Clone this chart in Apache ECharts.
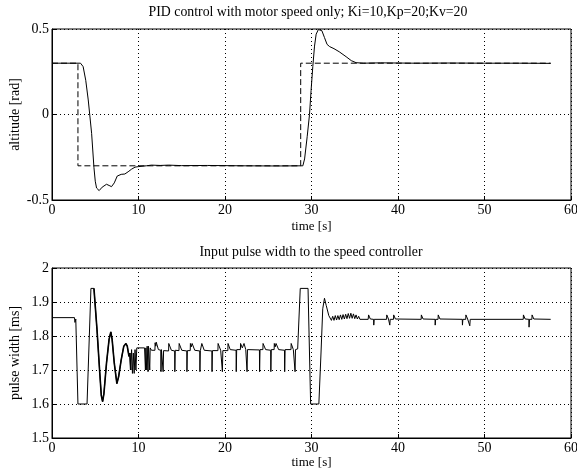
<!DOCTYPE html>
<html>
<head>
<meta charset="utf-8">
<script src="https://cdn.jsdelivr.net/npm/echarts@6/dist/echarts.min.js"></script>
<style>html,body{margin:0;padding:0;background:#fff}#c{width:577px;height:474px}</style>
</head>
<body>
<div id="c"></div>
<script>
// ---- data ----
const titleTop = 'PID control with motor speed only; Ki=10,Kp=20;Kv=20';
const titleBottom = 'Input pulse width to the speed controller';
const xName = 'time [s]';
const yNameTop = 'altitude [rad]';
const yNameBottom = 'pulse width [ms]';
const xTicks = [0, 10, 20, 30, 40, 50, 60];
const yTicksTop = [-0.5, 0, 0.5];
const yTicksBottom = [1.5, 1.6, 1.7, 1.8, 1.9, 2];

// altitude reference (dashed)
const altitudeRef = [[0,0.3],[3.0,0.3],[3.0,-0.3],[28.75,-0.3],[28.75,0.3],[57.65,0.3]];
// altitude measured (solid)
const altitude = [
 [0,0.30],[3.3,0.30],[3.45,0.295],[3.6,0.28],[3.9,0.2],[4.19,0.085],[4.58,-0.11],[4.85,-0.31],
 [5.0,-0.39],[5.15,-0.43],[5.45,-0.445],[5.8,-0.425],[6.3,-0.408],[6.6,-0.415],[6.88,-0.422],
 [7.2,-0.4],[7.54,-0.36],[8.0,-0.35],[8.42,-0.348],[8.8,-0.335],[9.19,-0.32],[9.6,-0.308],
 [9.96,-0.305],[10.9,-0.3],[11.5,-0.296],[12.5,-0.298],[13.5,-0.296],[15,-0.299],[18,-0.298],
 [22,-0.3],[26,-0.301],[29.0,-0.3],[29.2,-0.26],[29.5,-0.13],[29.77,0.0],[29.95,0.14],
 [30.15,0.28],[30.35,0.4],[30.54,0.47],[30.8,0.497],[31.0,0.5],[31.2,0.49],[31.5,0.45],
 [31.8,0.41],[32.1,0.397],[32.6,0.385],[33.2,0.367],[34.0,0.338],[34.6,0.315],[35.15,0.303],
 [36,0.3],[38,0.302],[42,0.3],[46,0.301],[50,0.3],[54,0.3],[57.65,0.299]
];
// pulse width (solid)
const pulseWidth = [
 [0,1.854],[2.6,1.854],[2.65,1.84],[2.75,1.85],[2.95,1.852],[3.0,1.6],[4.05,1.6],[4.5,1.94],
 [4.85,1.94],[5.2,1.82],[5.5,1.70],[5.7,1.625],[5.85,1.607],[6.0,1.63],[6.3,1.72],[6.6,1.79],
 [6.8,1.812],[6.95,1.79],[7.2,1.72],[7.5,1.66],[7.7,1.68],[8.0,1.73],[8.3,1.77],[8.55,1.778],
 [8.7,1.77],[8.9,1.74],[9.0,1.75],[9.1,1.70],[9.2,1.76],[9.3,1.69],[9.4,1.75],[9.5,1.69],
 [9.6,1.76],[9.7,1.70],[9.8,1.765],[10.7,1.765],
 [10.75,1.765],[10.8,1.70],[10.85,1.765],[10.95,1.70],[11.0,1.77],[11.1,1.695],[11.15,1.77],
 [11.3,1.70],[11.35,1.765],[11.5,1.758],
 [11.9,1.758],[11.92,1.78],[12.0,1.77],[12.05,1.782],[12.3,1.76],
 [12.58,1.758],[12.6,1.695],[12.65,1.76],[12.83,1.758],[12.85,1.695],[12.9,1.757],
 [13.48,1.756],[13.5,1.778],[13.8,1.758],
 [14.18,1.756],[14.2,1.695],[14.25,1.758],
 [14.68,1.757],[14.7,1.778],[15.0,1.758],
 [15.58,1.756],[15.6,1.695],[15.65,1.757],
 [15.98,1.757],[16.0,1.778],[16.1,1.768],[16.2,1.778],[16.5,1.758],
 [17.08,1.756],[17.1,1.695],[17.15,1.757],
 [17.3,1.758],[17.32,1.778],[17.6,1.758],
 [18.48,1.756],[18.5,1.695],[18.55,1.757],
 [19.18,1.757],[19.2,1.778],[19.5,1.758],
 [19.68,1.756],[19.7,1.695],[19.75,1.757],
 [20.33,1.757],[20.35,1.778],[20.6,1.76],
 [21.28,1.758],[21.3,1.695],[21.35,1.76],
 [21.78,1.76],[21.8,1.778],[22.0,1.765],[22.2,1.778],[22.4,1.76],
 [22.53,1.758],[22.55,1.695],[22.6,1.76],
 [23.98,1.759],[24.0,1.695],[24.05,1.76],
 [24.38,1.76],[24.4,1.778],[24.7,1.76],
 [25.28,1.758],[25.3,1.695],[25.35,1.76],
 [25.68,1.76],[25.7,1.778],[25.8,1.768],[25.9,1.778],[26.2,1.76],
 [26.88,1.758],[26.9,1.695],[26.95,1.76],
 [27.63,1.76],[27.65,1.778],[27.9,1.76],
 [28.08,1.758],[28.1,1.695],[28.15,1.76],
 [28.4,1.762],[28.7,1.94],[29.6,1.94],[29.9,1.6],[30.85,1.6],
 [31.1,1.75],[31.3,1.88],[31.5,1.911],[31.7,1.89],[32.0,1.86],[32.3,1.846],
 [32.45,1.858],[32.6,1.846],[32.75,1.86],[32.9,1.847],[33.05,1.86],[33.2,1.848],[33.35,1.862],
 [33.5,1.849],[33.65,1.863],[33.8,1.85],[33.95,1.864],[34.1,1.851],[34.25,1.866],[34.4,1.852],
 [34.55,1.867],[34.7,1.852],[34.85,1.865],[35.0,1.851],[35.15,1.862],[35.3,1.85],[35.45,1.858],
 [35.6,1.849],[35.8,1.849],
 [36.55,1.849],[36.6,1.862],[36.8,1.85],
 [37.18,1.849],[37.2,1.832],[37.25,1.849],
 [38.68,1.849],[38.7,1.862],[38.9,1.85],
 [39.03,1.85],[39.05,1.832],[39.1,1.849],
 [39.48,1.849],[39.5,1.862],[39.7,1.85],
 [42.68,1.849],[42.7,1.862],[42.9,1.85],
 [44.28,1.849],[44.3,1.832],[44.35,1.849],
 [44.63,1.849],[44.65,1.862],[44.85,1.85],
 [47.43,1.849],[47.45,1.832],[47.5,1.849],
 [47.83,1.849],[47.85,1.862],[48.05,1.85],
 [48.28,1.849],[48.3,1.83],[48.35,1.849],
 [54.48,1.849],[54.5,1.862],[54.7,1.85],
 [55.13,1.849],[55.15,1.826],[55.2,1.849],
 [55.48,1.849],[55.5,1.862],[55.7,1.85],
 [57.65,1.849]
];
// time spans where the trace is drawn as a dense/thick band
const thickSpans = [[4.85, 9.1]];

// ---- chart ----
const FONT = "'Liberation Serif','Times New Roman',serif";
const chart = echarts.init(document.getElementById('c'), null, {renderer: 'canvas'});
const thick = pulseWidth.filter(p => thickSpans.some(s => p[0] >= s[0] && p[0] <= s[1]));

function xAx(idx) {
  return {
    gridIndex: idx, type: 'value', min: xTicks[0], max: xTicks[xTicks.length-1], interval: 10,
    name: xName, nameLocation: 'middle', nameGap: idx === 0 ? 20 : 18, nameMoveOverlap: false,
    nameTextStyle: {color: '#000', fontFamily: FONT, fontSize: 13},
    axisLine: {show: true, onZero: false, lineStyle: {color: '#000', width: 1}},
    axisTick: {show: true, inside: true, length: 4, lineStyle: {color: '#000'}},
    axisLabel: {color: '#000', fontFamily: FONT, fontSize: 14, margin: 3},
    splitLine: {show: true, lineStyle: {color: '#000', type: [1, 3], width: 1}}
  };
}
function yAx(idx, ticks, interval, name) {
  return {
    gridIndex: idx, type: 'value', min: ticks[0], max: ticks[ticks.length-1], interval: interval,
    name: name, nameLocation: 'middle', nameGap: 30, nameMoveOverlap: false,
    nameTextStyle: {color: '#000', fontFamily: FONT, fontSize: 14},
    axisLine: {show: true, onZero: false, lineStyle: {color: '#000', width: 1}},
    axisTick: {show: true, inside: true, length: 4, lineStyle: {color: '#000'}},
    axisLabel: {color: '#000', fontFamily: FONT, fontSize: 14, margin: 3},
    splitLine: {show: true, lineStyle: {color: '#000', type: [1, 3], width: 1}}
  };
}

chart.setOption({
  animation: false,
  backgroundColor: '#fff',
  title: [
    {text: titleTop, left: 308, top: 5, textAlign: 'center', padding: 0,
     textStyle: {color: '#000', fontFamily: FONT, fontSize: 13.8, fontWeight: 'normal'}},
    {text: titleBottom, left: 311, top: 245, textAlign: 'center', padding: 0,
     textStyle: {color: '#000', fontFamily: FONT, fontSize: 13.8, fontWeight: 'normal'}}
  ],
  grid: [
    {left: 52, right: 6, top: 29, height: 171, show: true, borderColor: '#000', borderWidth: 1,
     backgroundColor: '#fff', containLabel: false, outerBoundsMode: 'none'},
    {left: 52, right: 6, top: 268, height: 170, show: true, borderColor: '#000', borderWidth: 1,
     backgroundColor: '#fff', containLabel: false, outerBoundsMode: 'none'}
  ],
  xAxis: [xAx(0), xAx(1)],
  yAxis: [yAx(0, yTicksTop, 0.5, yNameTop), yAx(1, yTicksBottom, 0.1, yNameBottom)],
  series: [
    {type: 'line', xAxisIndex: 0, yAxisIndex: 0, data: altitude, showSymbol: false,
     lineStyle: {color: '#000', width: 1}},
    {type: 'line', xAxisIndex: 0, yAxisIndex: 0, data: altitudeRef, showSymbol: false,
     lineStyle: {color: '#000', width: 1, type: [6, 3]}},
    {type: 'line', xAxisIndex: 1, yAxisIndex: 1, data: pulseWidth, showSymbol: false,
     lineStyle: {color: '#000', width: 1}},
    {type: 'line', xAxisIndex: 1, yAxisIndex: 1, data: thick, showSymbol: false,
     lineStyle: {color: '#000', width: 1.6}}
  ]
});
</script>
</body>
</html>
